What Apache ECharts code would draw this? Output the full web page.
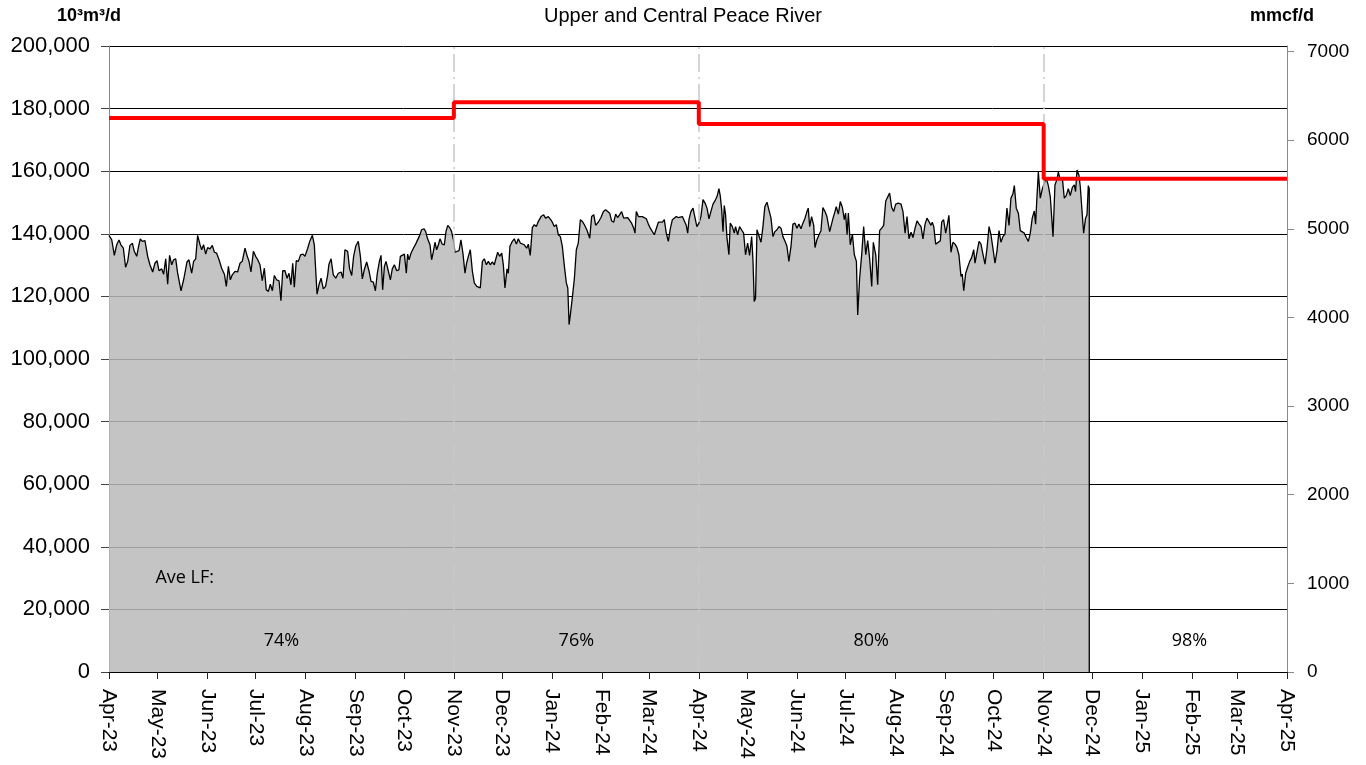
<!DOCTYPE html>
<html>
<head>
<meta charset="utf-8">
<title>Upper and Central Peace River</title>
<script src="https://cdn.jsdelivr.net/npm/echarts@6/dist/echarts.min.js"></script>
<style>
  html, body { margin: 0; padding: 0; background: #fff; }
  #chart { width: 1366px; height: 765px; }
</style>
</head>
<body>
<div id="chart"></div>
<script>
const DAY = 86400000;
const startDate = Date.UTC(2023, 3, 1);
const endDate = Date.UTC(2025, 3, 1);
const mcfFactor = 28.317; // 10^3 m3 per mmcf

// capacity (red step line), value holds from each date to the next
const capDates = ['2023-04-01', '2023-11-01', '2024-04-01', '2024-11-01', '2025-04-01'];
const capValues = [177000, 182000, 175100, 157600, 157600];

// average load factor per period
const lfLabels = ['74%', '76%', '80%', '98%'];
const lfFrom = ['2023-04-01', '2023-11-01', '2024-04-01', '2024-12-01'];
const lfTo = ['2023-11-01', '2024-04-01', '2024-11-01', '2025-04-01'];

// right axis ticks (mmcf/d)
const mmcfTicks = [0, 1000, 2000, 3000, 4000, 5000, 6000, 7000];

// throughput: [days since 2023-04-01, 10^3m3/d]
const flow = [
  [0,139500],[1.7,138100],[3.3,133100],[4.8,136500],[6.2,138000],[7.4,136500],[8.9,135400],[10.3,129300],[11.6,131200],[13.0,136300],
  [14.5,137000],[15.7,134400],[17.2,132800],[18.2,135600],[19.4,138400],[20.7,137600],[22.3,137800],[24.0,132800],[25.4,130100],[27.1,127800],
  [28.5,130600],[29.8,131400],[31.0,128200],[32.7,128800],[33.9,127100],[35.2,132000],[36.4,123900],[37.6,133100],[38.9,130100],[40.1,131700],
  [41.4,132000],[42.6,127400],[44.7,121800],[46.5,125800],[48.4,131000],[49.6,131700],[51.3,127400],[52.5,131200],[53.8,132000],[55.0,139500],
  [56.5,136500],[57.5,134900],[58.7,136500],[60.0,133500],[61.2,135600],[62.7,135200],[64.1,136300],[65.4,134100],[66.8,133800],[68.3,131700],
  [69.9,129000],[71.6,127100],[72.8,123200],[74.1,129600],[75.3,125300],[76.5,126900],[78.2,128000],[79.8,127800],[81.3,130600],[82.7,131200],
  [84.4,135400],[85.8,132800],[86.9,131200],[88.1,127800],[89.6,134400],[91.0,132800],[92.3,131700],[93.7,130100],[95.1,125000],[96.4,129000],
  [97.6,122100],[98.9,121600],[100.1,123900],[101.4,121800],[102.6,126700],[104.0,125300],[105.5,125000],[106.7,118600],[107.8,128200],[109.2,128200],
  [110.5,125800],[111.7,127400],[112.9,123700],[114.0,130600],[115.0,122900],[116.2,131400],[117.5,131200],[118.9,133300],[120.4,133500],[121.6,132800],
  [123.3,135400],[124.7,137800],[126.2,139500],[127.4,136500],[129.1,120700],[130.3,123700],[131.6,125800],[133.0,122400],[134.4,123200],[135.7,126900],
  [136.5,130300],[137.8,132000],[139.2,126900],[140.7,125800],[142.3,127400],[144.0,127800],[145.2,125800],[146.4,134900],[148.1,134400],[149.3,128800],
  [150.6,126700],[151.8,132800],[153.1,136000],[154.7,137600],[156.0,132800],[157.2,125600],[158.4,128500],[159.9,131000],[161.3,128200],[162.6,124800],
  [164.0,124600],[165.3,121800],[166.5,127400],[167.8,131200],[168.8,133100],[169.8,122100],[170.9,129600],[171.9,131200],[173.3,128200],[174.6,125300],
  [175.8,128800],[177.1,130100],[178.5,128200],[179.9,128500],[180.8,132800],[182.0,132200],[183.3,133500],[184.5,127400],[185.3,133500],[186.2,131700],
  [187.4,133800],[188.9,135400],[190.3,136700],[191.5,136500],[192.8,139500],[194.0,141300],[195.5,141600],[196.5,140700],[197.7,138400],[199.2,136500],
  [200.2,131700],[201.3,134400],[202.3,137300],[203.3,134900],[204.4,136500],[205.4,138400],[206.8,136700],[208.1,136500],[209.1,140700],[210.2,142700],
  [211.6,141800],[212.6,140700],[213.7,138100],[214.7,134100],[215.9,133500],[217.2,134600],[218.4,138100],[219.7,133500],[220.9,127400],[221.9,130600],
  [223.0,132800],[224.2,134900],[225.5,128000],[226.7,124300],[228.2,123200],[229.2,122900],[230.4,122700],[231.7,131200],[232.9,132000],[234.2,130100],
  [235.4,131200],[236.6,130100],[237.9,131000],[239.1,130100],[239.9,131700],[241.2,134100],[242.4,132800],[243.7,133800],[244.7,130100],[245.7,122700],
  [247.0,128800],[247.8,127400],[248.8,136000],[250.3,137600],[251.5,138400],[252.8,136700],[254.0,138400],[255.3,137000],[256.5,137300],[257.7,136500],
  [259.2,135400],[260.2,136700],[261.4,133100],[262.7,142000],[263.9,142900],[265.2,142300],[266.4,143900],[268.1,145500],[269.7,146100],[270.9,145000],
  [272.6,145500],[274.1,144500],[275.1,143700],[276.3,142300],[277.6,142900],[278.8,139700],[280.1,139100],[281.3,136000],[282.6,129600],[283.8,124300],
  [284.7,122700],[285.5,111000],[286.3,114200],[287.6,120000],[288.8,125800],[290.0,134900],[291.2,137000],[292.5,144500],[293.8,143900],[295.0,142900],
  [296.5,141300],[298.3,138600],[299.5,145500],[300.8,146100],[302.0,142700],[303.6,143700],[305.3,145200],[306.8,147100],[308.2,147700],[309.4,148000],
  [310.7,146600],[311.9,144100],[313.2,143700],[314.4,146300],[315.6,145200],[316.9,146100],[318.1,147100],[319.4,145000],[320.6,145500],[321.9,145200],
  [323.1,144800],[324.3,143400],[325.6,141800],[326.4,140200],[327.2,147100],[328.5,145500],[329.7,145200],[331.0,145500],[332.2,145000],[333.4,144800],
  [334.7,143100],[335.9,141800],[337.2,140700],[338.4,139700],[339.6,140200],[340.9,143700],[342.1,144100],[343.4,143700],[344.6,144500],[345.8,140200],
  [347.1,137600],[348.3,141600],[349.6,144500],[350.8,145000],[352.0,145500],[353.3,145200],[354.5,145500],[355.8,145500],[357.0,145000],[358.2,142700],
  [359.1,140200],[359.9,144500],[361.1,147100],[362.4,148200],[363.6,147700],[364.8,142300],[366.1,143400],[367.3,145500],[368.6,150900],[369.8,149900],
  [371.1,148200],[372.3,144800],[373.5,147100],[374.8,149500],[376.0,150500],[377.3,151900],[378.5,154400],[379.3,152200],[380.2,147700],[381.0,140700],
  [381.8,149000],[382.6,146100],[383.5,138600],[384.7,133300],[385.5,143400],[386.8,142300],[388.0,140200],[388.8,142300],[390.1,139700],[391.3,142300],
  [392.5,141300],[393.8,140200],[395.0,133300],[396.3,137000],[397.5,133100],[398.8,139100],[399.6,131700],[400.4,118400],[401.2,119400],[402.1,141300],
  [403.3,141800],[404.6,137300],[405.8,142300],[407.0,148700],[408.3,150100],[409.5,149800],[410.8,145000],[412.0,139100],[413.2,140700],[414.5,141300],
  [415.7,142300],[417.0,141800],[418.2,139100],[419.5,137600],[420.7,136000],[421.9,131200],[423.2,136000],[424.4,143100],[425.7,143400],[426.9,141800],
  [428.1,143100],[429.4,141600],[430.6,143400],[431.9,145000],[433.1,147100],[433.9,148200],[434.8,142300],[436.0,145500],[437.3,142700],[438.1,135600],
  [439.3,138100],[440.6,139700],[441.8,141000],[443.0,148400],[444.3,147100],[445.5,145500],[447.2,140700],[448.0,140200],[449.3,145000],[450.5,147100],
  [451.3,148700],[452.6,146300],[453.8,150300],[455.1,148400],[456.3,144500],[457.1,146600],[458.0,139700],[458.8,146600],[460.0,136500],[461.3,139900],
  [462.5,133300],[463.8,131200],[464.6,114100],[465.8,125800],[467.1,133500],[468.3,142300],[469.6,133300],[470.8,137800],[472.0,132200],[473.3,123200],
  [474.3,137300],[475.8,133300],[477.0,123700],[478.2,141000],[479.5,141800],[480.7,142700],[482.0,150500],[483.2,150900],[484.4,153000],[485.7,148400],
  [486.9,147100],[488.2,149500],[489.8,149800],[491.5,149500],[492.7,147100],[494.0,140200],[495.2,145500],[496.4,138400],[497.7,140500],[498.9,138800],
  [500.2,141800],[501.4,144100],[502.7,143100],[503.9,142300],[505.1,138400],[506.4,143100],[507.6,145000],[508.8,145500],[510.1,142700],[510.9,143700],
  [511.8,142300],[513.0,136700],[514.2,137300],[515.9,137800],[516.7,143700],[517.9,144500],[519.2,140200],[520.0,142300],[521.2,145900],[522.5,134100],
  [523.7,137300],[525.0,136700],[526.2,135600],[527.4,133300],[528.7,126400],[529.5,127100],[530.4,121800],[531.6,127400],[532.8,129300],[534.1,131200],
  [535.3,132400],[536.6,134900],[537.4,130600],[538.6,134100],[539.9,137600],[541.1,136700],[542.3,133500],[543.6,130300],[544.8,135200],[546.1,142300],
  [547.3,139700],[548.5,135400],[549.8,130600],[551.0,134400],[552.3,141000],[553.5,137300],[554.7,139100],[556.0,139900],[557.2,148200],[558.5,142700],
  [559.7,151400],[560.9,152700],[561.8,155400],[563.0,148200],[564.3,146600],[565.5,141000],[566.7,140700],[568.0,140200],[569.2,138800],[570.5,137600],
  [571.7,140200],[572.9,145000],[574.2,147300],[575.0,143100],[575.8,151400],[576.7,159700],[577.9,151400],[579.2,154400],[580.4,156200],[581.6,157800],
  [582.9,155400],[584.1,151900],[585.8,139100],[587.0,155600],[588.2,157300],[589.1,159700],[590.3,157300],[591.6,157800],[592.8,151400],[594.0,152200],
  [595.3,154400],[596.5,152200],[597.8,154800],[599.0,155600],[599.8,153500],[600.7,160400],[601.9,158700],[602.7,155200],[603.6,154800],[604.8,140200],
  [606.0,145000],[606.9,146100],[607.7,155400],[608.3,154400]
];

const MON = ['Jan','Feb','Mar','Apr','May','Jun','Jul','Aug','Sep','Oct','Nov','Dec'];
const toTime = s => Date.parse(s + 'T00:00:00Z');
const fmtMonth = v => {
  const d = new Date(v);
  return MON[d.getUTCMonth()] + '-' + String(d.getUTCFullYear()).slice(2);
};

// month starts for the x ticks
const monthTicks = [];
for (let y = 2023, m = 3; Date.UTC(y, m, 1) <= endDate; m++) {
  if (m > 11) { m = 0; y++; }
  monthTicks.push(Date.UTC(y, m, 1));
}

const flowData = flow.map(p => [startDate + p[0] * DAY, p[1]]);
// area closes with a vertical drop at the last reading
flowData.push([flowData[flowData.length - 1][0], 0]);

const capData = capDates.map((d, i) => [toTime(d), capValues[i]]);
const dividers = capDates.slice(1, -1).map(d => ({ xAxis: toTime(d) }));

const FONT = "'Liberation Sans', Arial, sans-serif";
const chart = echarts.init(document.getElementById('chart'));

chart.setOption({
  animation: false,
  backgroundColor: '#fff',
  title: {
    text: 'Upper and Central Peace River',
    left: 'center',
    top: 1,
    textStyle: { fontFamily: FONT, fontSize: 20, fontWeight: 'normal', color: '#000' }
  },
  grid: { left: 109, right: 79, top: 46, bottom: 93 },
  xAxis: {
    type: 'value',
    min: startDate,
    max: endDate,
    z: 5,
    axisLine: { lineStyle: { color: '#000', width: 1 } },
    axisTick: { customValues: monthTicks, length: 7, lineStyle: { color: '#222' } },
    axisLabel: {
      customValues: monthTicks,
      rotate: -90,
      margin: 17,
      fontFamily: FONT,
      fontSize: 21,
      color: '#000',
      formatter: fmtMonth
    },
    splitLine: { show: false }
  },
  yAxis: [{
    type: 'value',
    min: 0,
    max: 200000,
    interval: 20000,
    axisLine: { show: true, lineStyle: { color: '#888' } },
    axisTick: { show: true, length: 8, lineStyle: { color: '#444' } },
    axisLabel: {
      margin: 19,
      fontFamily: FONT,
      fontSize: 22,
      color: '#000',
      formatter: v => v.toLocaleString('en-US')
    },
    splitLine: { show: true, lineStyle: { color: '#000', width: 1 } }
  }, {
    type: 'value',
    position: 'right',
    min: 0,
    max: 200000 / mcfFactor,
    axisLine: { show: true, lineStyle: { color: '#888' } },
    axisTick: { show: true, length: 7, customValues: mmcfTicks, lineStyle: { color: '#888' } },
    axisLabel: {
      customValues: mmcfTicks,
      margin: 20,
      fontFamily: FONT,
      fontSize: 19,
      color: '#000',
      formatter: v => String(Math.round(v))
    },
    splitLine: { show: false }
  }],
  series: [{
    name: 'Throughput',
    type: 'line',
    data: flowData,
    symbol: 'none',
    z: 2,
    lineStyle: { color: '#000', width: 1.3 },
    areaStyle: { color: '#bababa', opacity: 0.85 }
  }, {
    name: 'Dividers',
    type: 'line',
    data: [],
    z: 3,
    markLine: {
      silent: true,
      z: 3,
      symbol: ['none', 'none'],
      label: { show: false },
      lineStyle: { color: '#c8c8c8', width: 1.5, type: [18, 5, 2, 5] },
      data: dividers
    }
  }, {
    name: 'Capacity',
    type: 'line',
    data: capData,
    step: 'end',
    symbol: 'none',
    z: 4,
    lineStyle: { color: '#ff0000', width: 4 }
  }]
});

// unit labels and load factor annotations
const annoFont = "'Open Sans', sans-serif";
const graphics = [{
  type: 'text', left: 57, top: 7, z: 20,
  style: { text: '10³m³/d', font: "bold 18px " + FONT, fill: '#000' }
}, {
  type: 'text', left: 1250, top: 7, z: 20,
  style: { text: 'mmcf/d', font: "bold 18px " + FONT, fill: '#000' }
}];
const avePos = chart.convertToPixel({ xAxisIndex: 0, yAxisIndex: 0 }, [toTime('2023-05-18'), 30000]);
graphics.push({
  type: 'text', x: avePos[0], y: avePos[1], z: 20,
  style: { text: 'Ave LF:', font: '18px ' + annoFont, fill: '#000', align: 'center', verticalAlign: 'middle' }
});
lfLabels.forEach((t, i) => {
  const mid = (toTime(lfFrom[i]) + toTime(lfTo[i])) / 2;
  const p = chart.convertToPixel({ xAxisIndex: 0, yAxisIndex: 0 }, [mid, 10000]);
  graphics.push({
    type: 'text', x: p[0], y: p[1], z: 20,
    style: { text: t, font: '18px ' + annoFont, fill: '#000', align: 'center', verticalAlign: 'middle' }
  });
});
chart.setOption({ graphic: graphics });
</script>
</body>
</html>
